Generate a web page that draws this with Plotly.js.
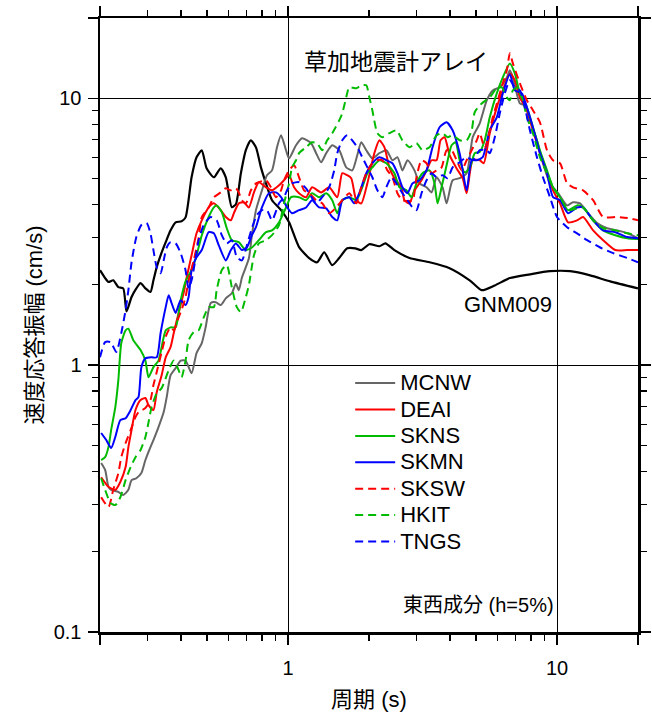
<!DOCTYPE html>
<html><head><meta charset="utf-8">
<script src="https://cdn.plot.ly/plotly-3.0.1.min.js"></script>
<style>html,body{margin:0;padding:0;background:#fff}#chart{width:652px;height:717px}</style>
</head><body><div id="chart"></div>
<script>
// Period (s) and velocity response amplitude (cm/s)
const gnmT=[0.2,0.209,0.215,0.224,0.234,0.244,0.251,0.262,0.273,0.283,0.295,0.308,0.316,0.325,0.336,0.351,0.366,0.382,0.402,0.416,0.438,0.457,0.478,0.498,0.530,0.562,0.587,0.618,0.640,0.668,0.697,0.727,0.760,0.793,0.828,0.872,0.942,1.009,1.099,1.198,1.283,1.363,1.459,1.550,1.660,1.778,1.873,2.006,2.186,2.301,2.486,2.828,3.358,3.987,4.735,5.249,5.870,6.677,7.929,9.416,11.18,13.28,15.77,20];
const gnmA=[2.27,2.12,2.05,2.08,1.96,1.94,1.59,1.80,1.94,2.03,1.94,1.88,2.08,2.33,2.58,2.89,3.20,3.43,3.46,3.58,5.06,6.01,6.39,5.47,5.06,5.47,5.06,3.91,4.01,5.24,6.39,6.96,6.55,5.51,4.80,4.15,3.81,3.43,2.77,2.52,2.43,2.65,2.37,2.52,2.74,2.74,2.70,2.84,2.79,2.86,2.70,2.52,2.43,2.31,2.08,1.91,1.99,2.12,2.19,2.25,2.25,2.17,2.06,1.94];

const mcnwT=[0.202,0.209,0.215,0.220,0.234,0.244,0.255,0.262,0.273,0.285,0.295,0.308,0.316,0.330,0.345,0.354,0.366,0.382,0.399,0.416,0.438,0.457,0.478,0.494,0.516,0.539,0.562,0.587,0.618,0.640,0.656,0.674,0.715,0.734,0.760,0.800,0.835,0.872,0.910,0.942,0.983,1.009,1.071,1.128,1.219,1.272,1.328,1.387,1.46,1.55,1.646,1.733,1.809,1.872,1.954,2.058,2.186,2.32,2.444,2.551,2.663,2.78,2.952,3.082,3.273,3.416,3.566,3.755,3.886,4.091,4.345,4.614,4.859,5.16,5.479,5.77,6.127,6.508,6.677,6.852,7.276,7.595,7.929,8.42,8.866,9.416,10.09,10.9,11.47,12.18,13.05,14.1,15.36,16.74,18.25,20];
const mcnwA=[0.43,0.405,0.35,0.341,0.335,0.326,0.341,0.371,0.377,0.394,0.441,0.493,0.524,0.586,0.667,0.759,0.917,0.975,1.04,1.04,0.933,1.11,1.21,1.386,1.71,1.72,1.68,1.78,1.86,2.02,1.91,2.13,2.51,3.07,3.81,4.52,5.15,5.37,6.56,7.27,6.39,5.96,6.67,7.08,6.79,6.23,5.76,6.23,6.67,6.39,5.51,5.37,6.12,6.84,6.39,5.96,6.23,6.39,5.86,6.02,5.37,5.86,5.37,4.80,4.64,4.44,5.06,4.64,4.04,4.93,5.02,5.24,7.15,8.06,9.83,10.71,11.0,11.98,12.73,11.98,9.57,9.41,8.27,6.96,5.71,4.80,4.41,3.97,4.08,4.04,3.71,3.41,3.26,3.20,3.12,2.99];

const deaiT=[0.202,0.215,0.228,0.238,0.249,0.255,0.262,0.271,0.283,0.295,0.303,0.316,0.325,0.339,0.351,0.366,0.376,0.392,0.409,0.420,0.438,0.457,0.478,0.507,0.530,0.562,0.587,0.613,0.629,0.656,0.685,0.715,0.747,0.779,0.828,0.872,0.926,0.966,1.009,1.053,1.099,1.167,1.229,1.328,1.422,1.524,1.591,1.66,1.718,1.794,1.872,1.972,2.094,2.186,2.281,2.381,2.486,2.64,2.709,2.828,2.952,3.135,3.273,3.416,3.566,3.69,3.82,3.987,4.234,4.459,4.614,4.859,5.16,5.34,5.623,5.97,6.288,6.677,6.97,7.276,7.727,8.136,8.64,9.176,9.662,10.26,10.99,11.87,12.5,13.62,14.84,16.46,18.25,20];
const deaiA=[0.380,0.350,0.341,0.365,0.415,0.493,0.571,0.679,0.740,0.753,0.708,0.679,0.792,0.917,1.07,1.17,1.32,1.57,1.86,2.13,2.58,3.12,3.49,3.90,4.04,3.81,3.59,3.49,3.71,4.04,4.08,3.90,4.44,4.85,4.64,4.52,4.72,4.93,5.15,4.64,4.41,4.26,4.64,4.44,4.64,4.26,5.24,5.15,5.02,4.15,4.04,4.80,6.23,6.96,6.56,5.51,5.02,4.64,4.15,4.04,4.52,4.93,5.37,5.86,5.86,6.96,7.15,6.12,5.46,5.02,4.41,5.86,5.86,5.71,7.40,9.25,10.71,12.40,11.68,10.09,9.02,7.59,6.23,5.24,4.52,4.04,3.43,3.49,3.59,3.20,2.94,2.70,2.70,2.70];

const sknsT=[0.202,0.209,0.215,0.220,0.228,0.234,0.240,0.249,0.255,0.266,0.283,0.295,0.303,0.316,0.330,0.351,0.366,0.382,0.399,0.416,0.434,0.454,0.478,0.507,0.530,0.543,0.567,0.592,0.618,0.656,0.697,0.734,0.779,0.828,0.872,0.926,0.983,1.026,1.099,1.167,1.229,1.305,1.387,1.46,1.524,1.591,1.689,1.794,1.888,1.972,2.058,2.186,2.32,2.486,2.595,2.756,2.877,3.003,3.162,3.358,3.505,3.597,3.722,3.886,4.056,4.198,4.345,4.536,4.735,4.943,5.16,5.386,5.623,5.97,6.288,6.677,6.97,7.276,7.727,8.136,8.64,9.176,9.662,10.26,10.99,11.87,12.5,13.62,14.84,16.46,18.25,20];
const sknsA=[0.441,0.452,0.493,0.571,0.696,0.879,1.21,1.35,1.37,1.24,1.14,1.04,0.901,0.983,1.04,1.35,1.386,1.386,1.75,2.06,2.23,2.51,3.07,3.59,3.90,3.97,3.75,3.26,2.94,2.89,2.70,2.76,2.94,3.15,3.20,3.43,3.90,4.26,4.26,4.15,4.41,4.26,4.41,4.15,3.71,4.15,4.26,4.15,4.64,5.24,5.51,5.86,5.71,5.24,4.64,4.52,4.26,4.80,5.24,5.37,4.80,4.04,4.64,5.61,6.67,6.84,5.86,5.28,5.46,6.23,6.29,6.96,8.49,10.44,11.98,13.52,12.40,10.44,9.25,7.79,6.39,5.37,4.64,4.26,3.81,3.97,3.90,3.49,3.20,3.07,2.99,2.97];

const skmnT=[0.202,0.211,0.220,0.228,0.238,0.249,0.260,0.271,0.278,0.285,0.295,0.311,0.325,0.336,0.351,0.360,0.369,0.382,0.399,0.416,0.427,0.438,0.454,0.478,0.507,0.530,0.553,0.587,0.613,0.640,0.674,0.703,0.734,0.760,0.800,0.849,0.902,0.942,0.983,1.035,1.099,1.167,1.229,1.305,1.387,1.46,1.524,1.591,1.689,1.763,1.84,1.954,2.058,2.186,2.32,2.444,2.551,2.663,2.78,2.902,3.082,3.273,3.445,3.659,3.886,4.091,4.345,4.614,4.817,5.029,5.295,5.623,5.97,6.288,6.677,6.97,7.402,7.727,8.136,8.64,9.176,9.662,10.26,10.99,11.87,12.5,13.62,14.84,16.46,18.25,20];
const skmnA=[0.557,0.524,0.489,0.538,0.622,0.633,0.679,0.740,0.759,0.983,1.06,1.07,1.07,1.32,1.65,1.83,1.71,1.57,1.75,1.68,1.80,2.27,2.51,2.70,3.15,3.12,2.81,2.47,2.70,2.86,2.70,2.76,3.07,3.29,3.90,4.41,4.44,4.26,3.97,3.71,3.81,3.90,4.15,3.90,3.87,3.59,3.49,4.15,4.26,4.04,4.41,5.24,5.71,6.02,5.86,5.71,5.24,4.64,4.41,4.80,4.93,5.37,6.56,7.79,8.13,7.59,6.23,4.52,5.86,5.86,6.02,7.59,8.49,10.44,12.30,10.71,10.44,9.25,7.79,6.23,5.24,4.26,4.15,3.71,3.90,3.90,3.49,3.20,3.15,3.02,2.99];

const skswT=[0.202,0.215,0.224,0.234,0.240,0.249,0.260,0.271,0.278,0.295,0.308,0.316,0.325,0.339,0.351,0.366,0.376,0.392,0.402,0.416,0.427,0.446,0.465,0.478,0.507,0.530,0.562,0.587,0.613,0.640,0.656,0.674,0.697,0.728,0.760,0.779,0.828,0.864,0.902,0.942,0.966,1.009,1.053,1.099,1.147,1.198,1.272,1.34,1.422,1.511,1.591,1.689,1.794,1.872,1.954,2.058,2.149,2.242,2.341,2.444,2.551,2.663,2.902,3.003,3.135,3.273,3.416,3.566,3.722,3.886,4.056,4.234,4.42,4.614,4.817,5.029,5.16,5.386,5.77,6.023,6.288,6.508,6.677,6.852,7.276,7.727,8.136,8.64,9.176,9.662,10.26,10.9,11.47,12.5,13.62,14.84,16.74,18.25,20];
const skswA=[0.320,0.294,0.341,0.394,0.452,0.511,0.571,0.639,0.667,0.691,0.740,0.842,0.942,1.12,1.28,1.386,1.35,1.51,1.61,1.80,2.08,2.47,2.99,3.59,3.90,4.26,4.44,4.60,4.52,4.60,4.44,4.15,4.04,4.52,4.80,4.85,4.93,4.64,4.26,4.52,4.93,5.37,5.61,5.06,4.52,4.41,4.15,4.04,3.71,3.90,4.15,4.41,4.04,4.64,5.24,5.71,5.86,5.86,5.37,5.06,4.41,4.15,4.15,5.06,5.86,5.71,5.24,5.37,5.51,6.39,6.39,5.86,5.37,5.86,6.39,6.96,7.40,6.50,8.49,9.83,11.39,12.73,14.74,13.52,11.39,9.83,9.02,8.13,6.39,5.86,5.71,4.80,4.64,4.52,4.15,3.59,3.59,3.56,3.49];

const hkitT=[0.202,0.209,0.219,0.228,0.238,0.249,0.260,0.271,0.283,0.295,0.303,0.311,0.325,0.339,0.360,0.376,0.392,0.402,0.416,0.427,0.446,0.465,0.486,0.507,0.530,0.543,0.567,0.592,0.618,0.645,0.668,0.697,0.715,0.747,0.779,0.828,0.872,0.926,0.966,1.009,1.035,1.071,1.099,1.167,1.229,1.283,1.34,1.398,1.46,1.55,1.591,1.646,1.689,1.794,1.872,1.954,2.006,2.058,2.149,2.242,2.381,2.529,2.663,2.828,3.003,3.162,3.358,3.566,3.755,3.919,4.091,4.345,4.614,4.817,4.943,5.249,5.623,5.97,6.233,6.508,6.677,6.852,7.152,7.466,7.727,8.136,8.64,9.176,9.662,10.26,10.99,11.87,12.5,13.62,14.84,16.46,18.25,20];
const hkitA=[0.377,0.341,0.304,0.299,0.320,0.371,0.415,0.452,0.481,0.538,0.611,0.696,0.785,0.82,0.958,1.04,0.958,0.901,1.04,1.24,1.33,1.35,1.51,1.65,1.65,1.91,2.27,2.37,1.96,1.65,1.58,1.80,1.99,2.58,2.86,2.94,3.07,3.35,4.04,4.80,5.51,5.86,6.23,6.56,6.84,6.79,6.39,6.96,7.40,8.27,8.79,10.09,11.0,10.90,11.19,11.19,10.09,9.02,7.40,7.15,7.40,7.59,6.96,6.56,6.79,6.39,6.56,7.27,7.40,7.15,7.27,6.96,6.96,7.59,8.87,9.57,10.09,10.90,11.0,10.09,9.83,10.71,11.0,9.83,8.49,7.40,6.02,5.24,4.64,4.26,3.81,3.87,3.90,3.49,3.26,3.20,3.12,3.07];

const tngsT=[0.2,0.209,0.219,0.230,0.240,0.249,0.255,0.262,0.273,0.285,0.298,0.308,0.316,0.325,0.336,0.345,0.354,0.366,0.382,0.399,0.416,0.427,0.438,0.454,0.465,0.486,0.516,0.543,0.567,0.592,0.618,0.645,0.674,0.703,0.734,0.766,0.800,0.835,0.872,0.926,0.966,0.992,1.035,1.099,1.167,1.272,1.34,1.422,1.485,1.524,1.591,1.66,1.733,1.809,1.888,1.972,2.058,2.149,2.242,2.32,2.422,2.529,2.663,2.78,2.902,3.003,3.135,3.273,3.416,3.566,3.755,3.919,4.091,4.345,4.614,4.859,5.16,5.479,5.623,5.87,6.127,6.397,6.677,6.97,7.276,7.595,7.929,8.42,8.866,9.416,10.0,10.9,11.87,12.94,14.47,16.18,18.25,20];
const tngsA=[1.07,1.22,1.22,1.12,1.32,1.61,1.91,2.43,3.02,3.35,3.41,3.12,2.70,2.33,2.21,2.47,2.76,2.89,2.86,2.63,2.27,1.94,2.08,2.54,2.94,3.35,3.59,3.49,3.07,2.86,2.94,2.54,2.47,2.81,3.26,3.65,3.81,3.81,3.49,4.04,4.26,4.52,4.80,4.85,4.60,4.04,4.26,4.64,5.37,6.23,6.96,7.27,6.96,6.56,6.02,5.51,5.06,4.52,4.26,4.64,5.06,4.80,4.41,4.15,3.90,3.81,4.41,4.93,5.24,5.06,5.15,5.02,5.51,5.76,6.02,5.86,6.39,6.39,6.23,7.15,8.79,10.44,11.68,11.0,10.71,9.25,7.59,6.02,5.06,4.26,3.59,3.29,3.12,2.94,2.76,2.63,2.52,2.43];

const stationNames=['MCNW','DEAI','SKNS','SKMN','SKSW','HKIT','TNGS'];
const stationColors=['#666666','#ff0000','#00bb00','#0000ff','#ff0000','#00bb00','#0000ff'];
const stationDash=['solid','solid','solid','solid','8px,5px','8px,5px','8px,5px'];
const stationT=[mcnwT,deaiT,sknsT,skmnT,skswT,hkitT,tngsT];
const stationA=[mcnwA,deaiA,sknsA,skmnA,skswA,hkitA,tngsA];

const xMajor=[0.2,1,10,20], xMajorText=['','1','10',''];
const xMinor=[0.3,0.4,0.5,0.6,0.7,0.8,0.9,2,3,4,5,6,7,8,9];
const yMajor=[0.1,1,10,20], yMajorText=['0.1','1','10',''];
const yMinor=[0.2,0.3,0.4,0.5,0.6,0.7,0.8,0.9,2,3,4,5,6,7,8,9];

const FONT='"Liberation Sans", Arial, "Noto Sans CJK JP", sans-serif';

const traces=[{
  x:gnmT,y:gnmA,type:'scatter',mode:'lines',name:'GNM009',showlegend:false,
  line:{color:'#000000',width:2.2,shape:'spline',smoothing:0.6}
}];
stationNames.forEach((n,i)=>{
  traces.push({x:stationT[i],y:stationA[i],type:'scatter',mode:'lines',
    name:'<span style="font-size:22px">'+n+'</span>',
    line:{color:stationColors[i],width:2,dash:stationDash[i],shape:'spline',smoothing:0.6}});
});

const axisCommon={type:'log',showline:true,linecolor:'#000',linewidth:2.5,mirror:'allticks',
  ticks:'outside',ticklen:10,tickwidth:1.5,tickcolor:'#000',
  showgrid:true,gridcolor:'#000',gridwidth:1,zeroline:false,
  tickfont:{size:20,family:FONT,color:'#000'}};

const layout={
  width:652,height:717,
  margin:{l:100,r:14,t:18,b:85},
  paper_bgcolor:'#fff',plot_bgcolor:'#fff',
  font:{family:FONT,color:'#000'},
  xaxis:Object.assign({},axisCommon,{range:[Math.log10(0.2),Math.log10(20)],
    tickmode:'array',tickvals:xMajor,ticktext:xMajorText,ticklabelstandoff:6,
    minor:{tickmode:'array',tickvals:xMinor,ticklen:6,tickwidth:1.2,tickcolor:'#000',showgrid:false},
    title:{text:'周期 (s)',font:{size:22,family:FONT},standoff:14}}),
  yaxis:Object.assign({},axisCommon,{range:[-1,Math.log10(20)],
    tickmode:'array',tickvals:yMajor,ticktext:yMajorText,ticklabelstandoff:2,
    minor:{tickmode:'array',tickvals:yMinor,ticklen:6,tickwidth:1.2,tickcolor:'#000',showgrid:false},
    title:{text:'速度応答振幅 (cm/s)',font:{size:22,family:FONT},standoff:5}}),
  showlegend:true,
  legend:{x:0.465,y:0.435,xanchor:'left',yanchor:'top',bgcolor:'rgba(0,0,0,0)',borderwidth:0,
    font:{size:18,family:FONT,color:'#000'},itemwidth:40,tracegroupgap:0},
  annotations:[
    {text:'草加地震計アレイ',xref:'paper',yref:'paper',x:0.551,y:0.928,xanchor:'center',yanchor:'middle',showarrow:false,font:{size:23,family:FONT}},
    {text:'GNM009',xref:'paper',yref:'paper',x:0.758,y:0.533,xanchor:'center',yanchor:'middle',showarrow:false,font:{size:22,family:FONT}},
    {text:'東西成分 (h=5%)',xref:'paper',yref:'paper',x:0.703,y:0.044,xanchor:'center',yanchor:'middle',showarrow:false,font:{size:20,family:FONT}}
  ]
};
Plotly.newPlot('chart',traces,layout,{displayModeBar:false,staticPlot:true});
</script>
</body></html>
